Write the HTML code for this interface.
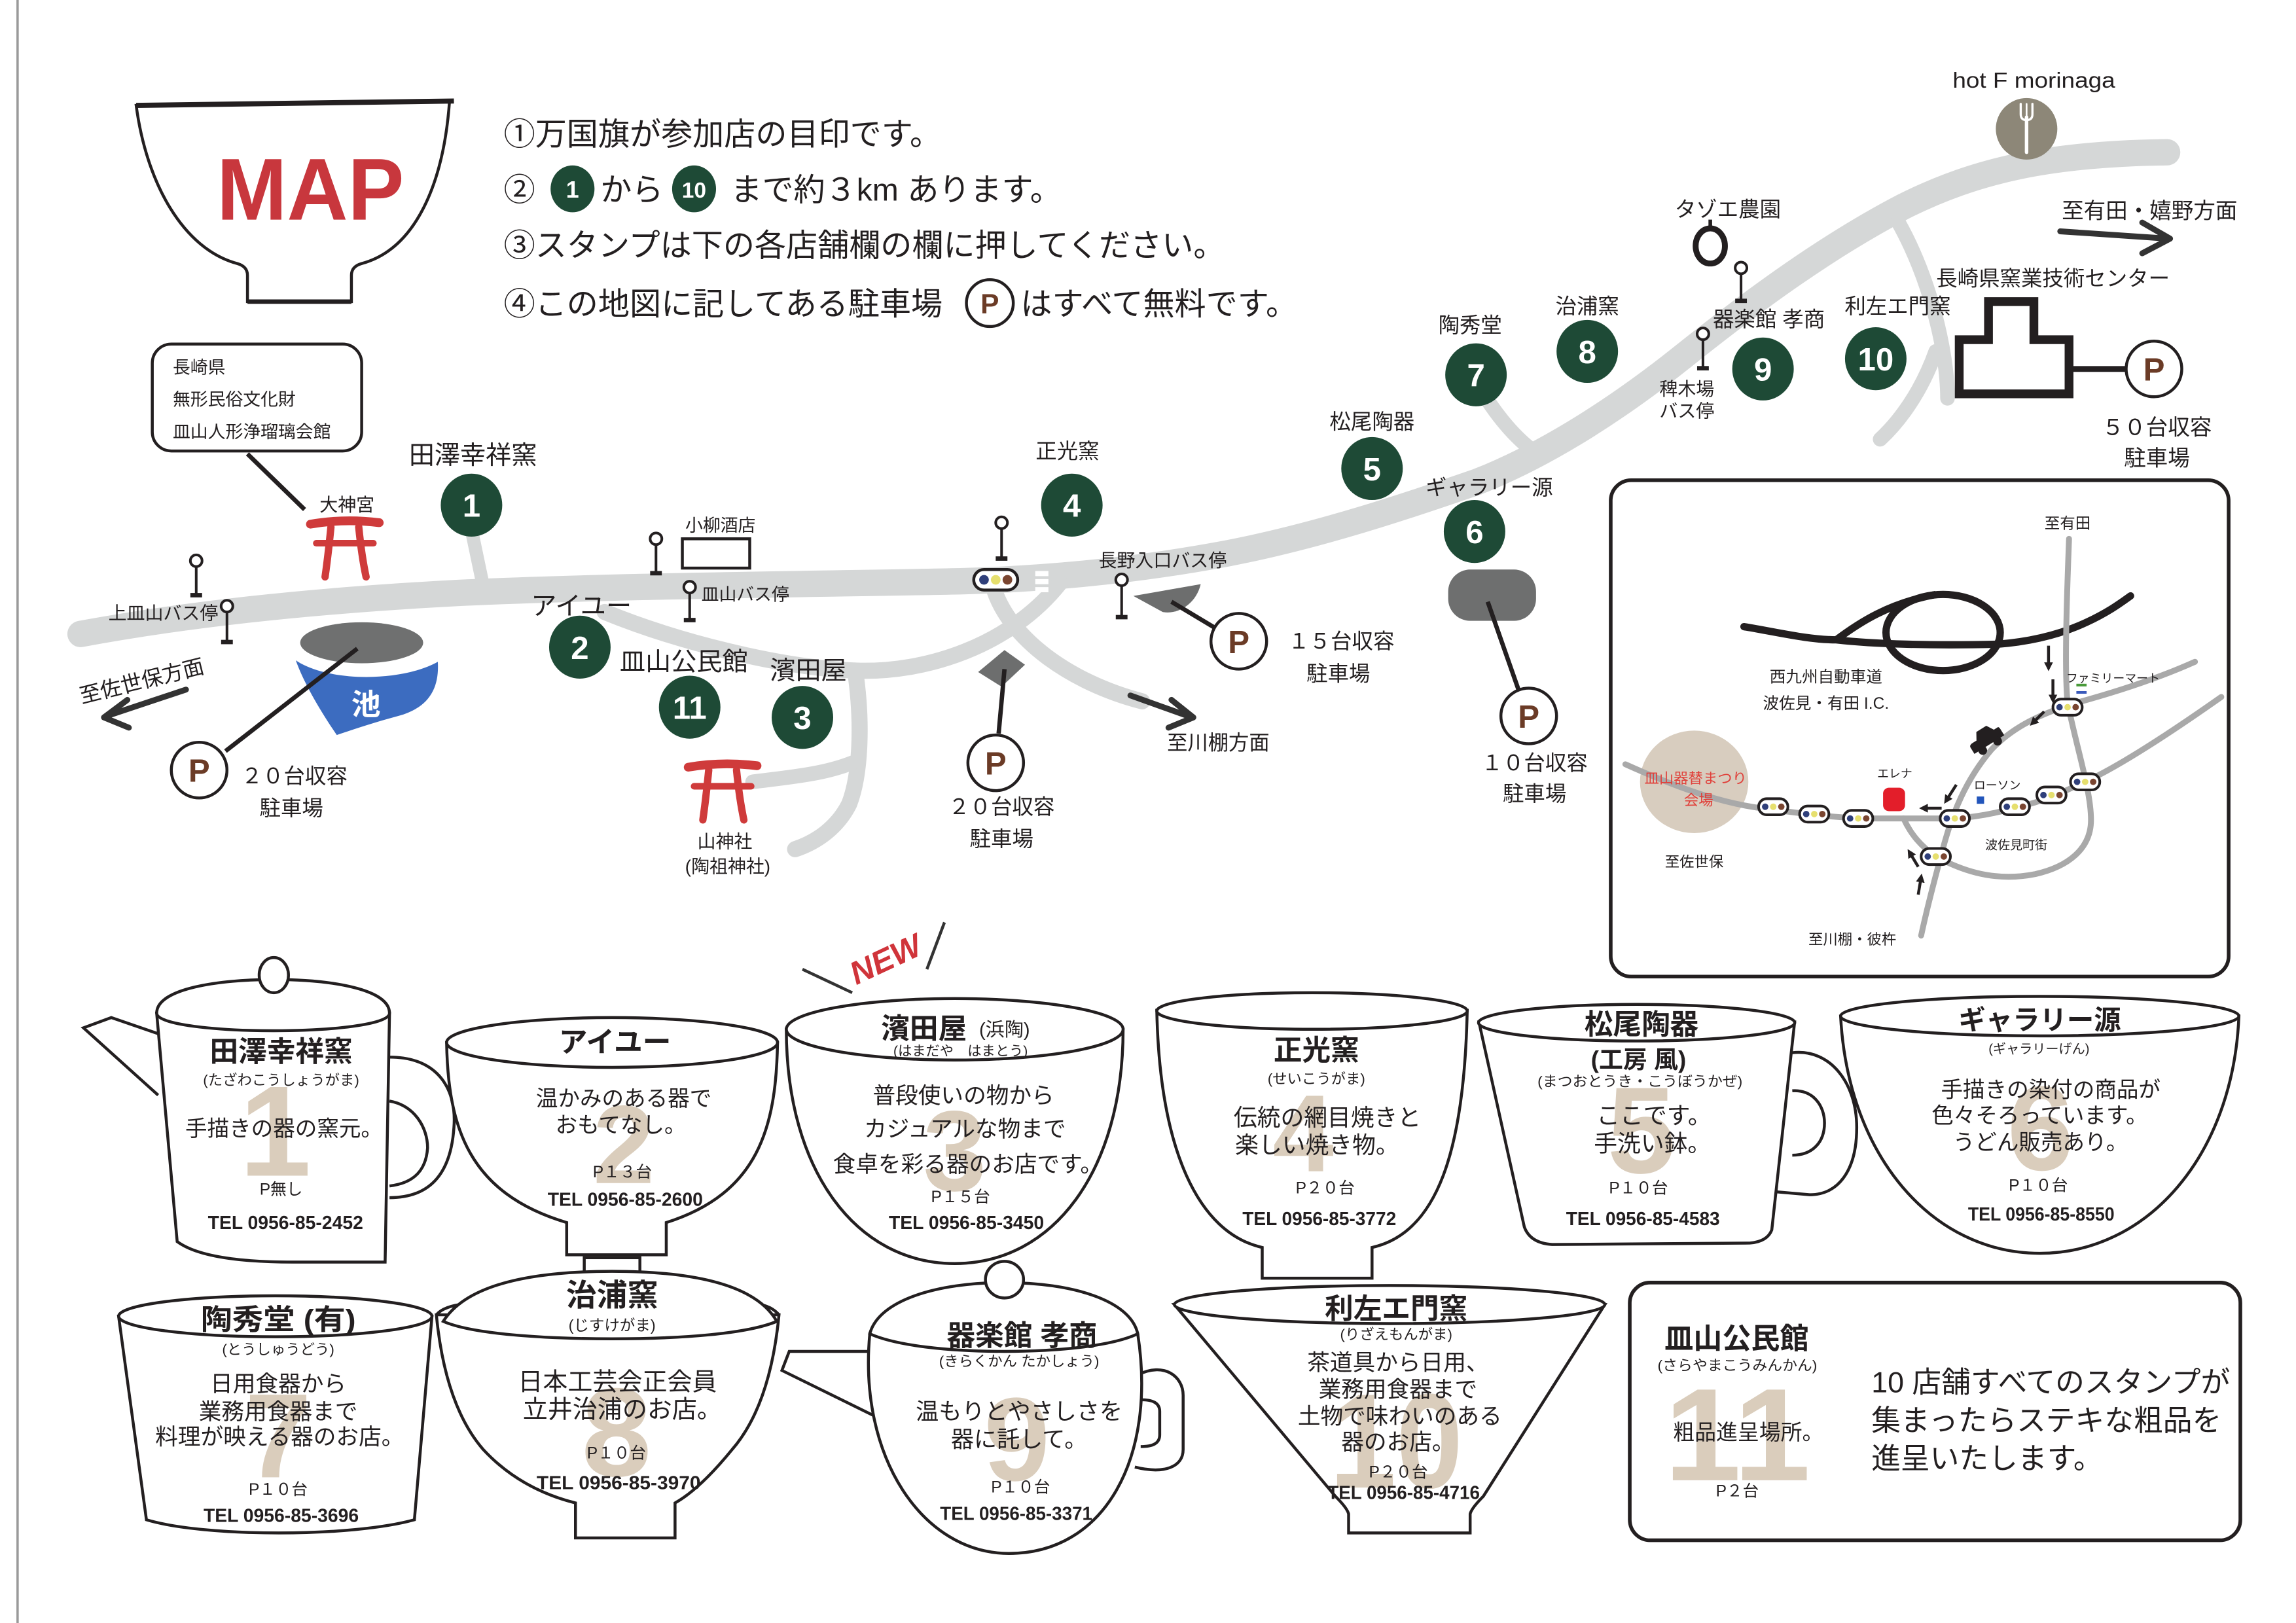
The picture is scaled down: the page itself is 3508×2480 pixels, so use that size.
<!DOCTYPE html>
<html><head><meta charset="utf-8">
<style>
html,body{margin:0;padding:0;background:#fff;}
svg{display:block;}
text{font-family:"Liberation Sans","Noto Sans CJK JP",sans-serif;fill:#231f20;}
.b{font-weight:bold;}
.c{text-anchor:middle;}
.e{text-anchor:end;}
.num{fill:#fff;font-weight:bold;text-anchor:middle;font-size:22px;}
.big{fill:#dacdbc;font-weight:bold;text-anchor:middle;font-size:80px;}
.tel{font-family:"Liberation Sans Narrow","Liberation Sans",sans-serif;font-weight:bold;text-anchor:middle;font-size:13px;}
.o{fill:#fff;stroke:#231f20;stroke-width:2;}
.ol{fill:none;stroke:#231f20;stroke-width:2;}
.pt{fill:#6b3b26;font-weight:bold;text-anchor:middle;font-size:22px;}
.g{fill:#1e4a36;}
.rd{fill:none;stroke:#d5d7d7;stroke-linecap:round;}
.ir{fill:none;stroke:#a9a9a9;stroke-width:4;stroke-linecap:round;}
.arr{fill:none;stroke:#333;stroke-width:4;stroke-linecap:round;stroke-linejoin:round;}
</style></head><body>
<svg width="3508" height="2480" viewBox="0 0 1568 1108.5" preserveAspectRatio="none" xmlns="http://www.w3.org/2000/svg">
<defs>
<marker id="ah" viewBox="0 0 10 10" refX="6" refY="5" markerWidth="3" markerHeight="3" orient="auto"><path d="M0,0 L10,5 L0,10 z" fill="#231f20"/></marker>
</defs>
<rect width="1568" height="1108.5" fill="#fff"/>
<line x1="12" y1="0" x2="12" y2="1108.5" stroke="#9a9a9a" stroke-width="1.6"/>

<!-- MAP bowl -->
<path class="o" d="M93,72 C100,125 125,170 162,180 Q169,182 169,188 L169,206 L240,206 L240,188 Q240,182 247,180 C284,170 303,125 307,69 Z" stroke-width="2"/>
<line x1="93" y1="72" x2="310" y2="69" stroke="#231f20" stroke-width="3.5"/>
<line x1="169" y1="206" x2="240" y2="206" stroke="#231f20" stroke-width="3"/>
<text x="212" y="150" class="c b" style="font-size:60px;fill:#c8373d" textLength="128" lengthAdjust="spacingAndGlyphs">MAP</text>

<!-- instructions -->
<g style="font-size:21.5px">
<text x="344" y="99">①万国旗が参加店の目印です。</text>
<text x="344" y="137">②</text>
<text x="410" y="137">から</text>
<text x="499" y="137">まで約３km あります。</text>
<text x="344" y="175">③スタンプは下の各店舗欄の欄に押してください。</text>
<text x="344" y="215">④この地図に記してある駐車場</text>
<text x="697" y="215">はすべて無料です。</text>
</g>
<ellipse cx="391" cy="129" rx="15" ry="16" class="g"/><text x="391" y="135" class="num" style="font-size:16px">1</text>
<ellipse cx="474" cy="129" rx="15" ry="16" class="g"/><text x="474" y="135" class="num" style="font-size:15px">10</text>
<circle cx="676" cy="207" r="16" class="o"/><text x="676" y="214" class="pt" style="font-size:19px">P</text>

<!-- speech bubble -->
<rect x="104" y="235" width="143" height="73" rx="13" class="o" stroke-width="2.2"/>
<g style="font-size:12px">
<text x="118" y="255">長崎県</text>
<text x="118" y="277">無形民俗文化財</text>
<text x="118" y="299">皿山人形浄瑠璃会館</text>
</g>
<line x1="169" y1="310" x2="208" y2="348" stroke="#231f20" stroke-width="3"/>

<!-- roads -->
<path class="rd" stroke-width="18" d="M55,433 C120,421 200,411 312,405 C420,400 560,399 656,397 C730,395 790,387 838,378 C900,366 960,346 1009,329 C1060,309 1110,275 1150,243 C1200,203 1250,167 1300,141 C1350,116 1400,105 1480,104"/>
<path class="rd" stroke-width="9" d="M322,362 L331,405"/>
<path class="rd" stroke-width="10" d="M1015,272 Q1030,295 1047,308"/>
<path class="rd" stroke-width="10" d="M1296,151 C1318,190 1330,240 1330,272"/>
<path class="rd" stroke-width="10" d="M1322,240 C1312,268 1297,288 1284,300"/>
<path class="rd" stroke-width="11" d="M413,418 C462,438 532,456 584,458 C632,460 690,441 724,398"/>
<path class="rd" stroke-width="11" d="M679,403 C690,436 730,466 780,479"/>
<path class="rd" stroke-width="11" d="M584,458 C589,492 588,528 580,549 C572,565 558,575 543,580"/>
<path class="rd" stroke-width="10" d="M514,534 C537,531 562,529 582,521"/>
<g fill="#fff"><rect x="707" y="390" width="9" height="3.5"/><rect x="707" y="395.5" width="9" height="3.5"/><rect x="707" y="401" width="9" height="3.5"/></g>

<!-- traffic light -->
<rect x="665" y="389" width="30" height="14" rx="7" fill="#fff" stroke="#231f20" stroke-width="2"/>
<circle cx="672" cy="396" r="3.3" fill="#2f3f7a"/><circle cx="680" cy="396" r="3.3" fill="#e6df6e"/><circle cx="688" cy="396" r="3.3" fill="#7a4530"/>

<!-- pins -->
<g stroke="#231f20" stroke-width="1.8" fill="#fff">
<line x1="134" y1="387" x2="134" y2="406"/><circle cx="134" cy="383" r="4"/>
<line x1="155" y1="418" x2="155" y2="438"/><circle cx="155" cy="414" r="4"/>
<line x1="448" y1="372" x2="448" y2="391"/><circle cx="448" cy="368" r="4"/>
<line x1="471" y1="405" x2="471" y2="423"/><circle cx="471" cy="401" r="4"/>
<line x1="684" y1="361" x2="684" y2="381"/><circle cx="684" cy="357" r="4"/>
<line x1="766" y1="400" x2="766" y2="421"/><circle cx="766" cy="396" r="4"/>
<line x1="1163" y1="232" x2="1163" y2="251"/><circle cx="1163" cy="228" r="4"/>
<line x1="1189" y1="187" x2="1189" y2="205"/><circle cx="1189" cy="183" r="4"/>
</g>
<g fill="#231f20">
<rect x="130" y="405" width="8" height="3"/><rect x="151" y="437" width="8" height="3"/>
<rect x="444" y="390" width="8" height="3"/><rect x="467" y="422" width="8" height="3"/>
<rect x="680" y="380" width="8" height="3"/><rect x="762" y="420" width="8" height="3"/>
<rect x="1159" y="250" width="8" height="3"/><rect x="1185" y="204" width="8" height="3"/>
</g>
<!-- タゾエ ring -->
<ellipse cx="1168" cy="168" rx="10" ry="12" fill="none" stroke="#231f20" stroke-width="4"/>
<line x1="1168" y1="150" x2="1168" y2="157" stroke="#231f20" stroke-width="2.5"/>

<!-- 小柳酒店 box -->
<rect x="466" y="368" width="46" height="20" fill="#fff" stroke="#231f20" stroke-width="2"/>

<!-- pond -->
<ellipse cx="247" cy="439" rx="42" ry="14" fill="#6f7070"/>
<path d="M202,451 C224,466 274,466 299,452 C300,469 294,483 272,489 C257,493 242,498 230,502 C217,483 207,465 202,451 Z" fill="#3c6cc0"/>
<text x="250" y="488" class="c b" style="font-size:20px;fill:#fff">池</text>
<line x1="154" y1="513" x2="244" y2="443" stroke="#231f20" stroke-width="3"/>

<!-- torii -->
<g stroke="#cf3b3b" stroke-linecap="round" fill="none">
<path d="M212,358 Q235,354 259,357" stroke-width="6"/>
<path d="M216,371 L255,371" stroke-width="4.5"/>
<path d="M226,360 Q224,380 222,394" stroke-width="5"/>
<path d="M245,360 Q247,380 250,394" stroke-width="5"/>
</g>
<g stroke="#cf3b3b" stroke-linecap="round" fill="none" transform="translate(258,166)">
<path d="M212,358 Q235,354 259,357" stroke-width="6"/>
<path d="M216,371 L255,371" stroke-width="4.5"/>
<path d="M226,360 Q224,380 222,394" stroke-width="5"/>
<path d="M245,360 Q247,380 250,394" stroke-width="5"/>
</g>

<!-- parking shapes and lines -->
<path d="M668,459 L686,444 L700,454 L684,469 Z" fill="#6d6e6e"/>
<line x1="686" y1="457" x2="682" y2="501" stroke="#231f20" stroke-width="3"/>
<path d="M774,407 L820,399 C817,412 805,420 794,418 Z" fill="#6d6e6e"/>
<line x1="800" y1="411" x2="830" y2="429" stroke="#231f20" stroke-width="3"/>
<rect x="989" y="389" width="60" height="35" rx="15" fill="#6e6f6f"/>
<line x1="1016" y1="411" x2="1037" y2="471" stroke="#231f20" stroke-width="3"/>

<!-- arrows -->
<path class="arr" d="M127,471 L73,489 M87,478 L71,490 L88,497"/>
<path class="arr" d="M772,475 L814,490 M800,478 L815,490 L798,497"/>
<path class="arr" d="M1407,158 L1481,163 M1463,152 L1482,163 L1463,173"/>

<!-- building -->
<path d="M1358,206 L1389,206 L1389,232 L1413,232 L1413,269 L1338,269 L1338,232 L1358,232 Z" fill="#fff" stroke="#231f20" stroke-width="6" stroke-linejoin="miter"/>
<line x1="1415" y1="252" x2="1452" y2="252" stroke="#231f20" stroke-width="4"/>

<!-- hot F morinaga -->
<circle cx="1384" cy="88" r="21" fill="#8d8778"/>
<g stroke="#fff" stroke-linecap="round" fill="none">
<line x1="1384" y1="80" x2="1384" y2="104" stroke-width="2.4"/>
<path d="M1380,71 L1380,78 Q1380,82 1384,82 Q1388,82 1388,78 L1388,71" stroke-width="1.5"/>
<line x1="1384" y1="71" x2="1384" y2="79" stroke-width="1.2"/>
</g>

<!-- P circles -->
<circle cx="136" cy="526" r="19" class="o"/><text x="136" y="534" class="pt">P</text>
<circle cx="680" cy="521" r="19" class="o"/><text x="680" y="529" class="pt">P</text>
<circle cx="846" cy="438" r="19" class="o"/><text x="846" y="446" class="pt">P</text>
<circle cx="1044" cy="489" r="19" class="o"/><text x="1044" y="497" class="pt">P</text>
<circle cx="1471" cy="252" r="19" class="o"/><text x="1471" y="260" class="pt">P</text>

<!-- green circles -->
<g>
<ellipse cx="322" cy="345" rx="21" ry="21.5" class="g"/><text x="322" y="353" class="num">1</text>
<ellipse cx="396" cy="442" rx="21" ry="21.5" class="g"/><text x="396" y="450" class="num">2</text>
<ellipse cx="471" cy="483" rx="21" ry="21.5" class="g"/><text x="471" y="491" class="num">11</text>
<ellipse cx="548" cy="490" rx="21" ry="21.5" class="g"/><text x="548" y="498" class="num">3</text>
<ellipse cx="732" cy="345" rx="21" ry="21.5" class="g"/><text x="732" y="353" class="num">4</text>
<ellipse cx="937" cy="320" rx="21" ry="21.5" class="g"/><text x="937" y="328" class="num">5</text>
<ellipse cx="1007" cy="363" rx="21" ry="21.5" class="g"/><text x="1007" y="371" class="num">6</text>
<ellipse cx="1008" cy="256" rx="21" ry="21.5" class="g"/><text x="1008" y="264" class="num">7</text>
<ellipse cx="1084" cy="240" rx="21" ry="21.5" class="g"/><text x="1084" y="248" class="num">8</text>
<ellipse cx="1204" cy="252" rx="21" ry="21.5" class="g"/><text x="1204" y="260" class="num">9</text>
<ellipse cx="1281" cy="245" rx="21" ry="21.5" class="g"/><text x="1281" y="253" class="num">10</text>
</g>

<!-- map labels -->
<g style="font-size:17.5px">
<text x="323" y="317" class="c">田澤幸祥窯</text>
<text x="397" y="420" class="c">アイユー</text>
<text x="467" y="458" class="c">皿山公民館</text>
<text x="552" y="464" class="c">濱田屋</text>
</g>
<g style="font-size:14.5px">
<text x="729" y="313" class="c">正光窯</text>
<text x="937" y="293" class="c">松尾陶器</text>
<text x="1017" y="338" class="c">ギャラリー源</text>
<text x="1004" y="227" class="c">陶秀堂</text>
<text x="1084" y="214" class="c">治浦窯</text>
<text x="1208" y="223" class="c">器楽館 孝商</text>
<text x="1296" y="214" class="c">利左エ門窯</text>
<text x="1402" y="195" class="c">長崎県窯業技術センター</text>
<text x="1180" y="148" class="c">タゾエ農園</text>
<text x="1468" y="149" class="c" style="font-size:15px">至有田・嬉野方面</text>
<text x="1473" y="297" class="c" style="font-size:15px">５０台収容</text>
<text x="1473" y="318" class="c" style="font-size:15px">駐車場</text>
<text x="201" y="535" class="c">２０台収容</text>
<text x="199" y="557" class="c">駐車場</text>
<text x="916" y="443" class="c">１５台収容</text>
<text x="914" y="465" class="c">駐車場</text>
<text x="684" y="556" class="c">２０台収容</text>
<text x="684" y="578" class="c">駐車場</text>
<text x="832" y="512" class="c" style="font-size:14px">至川棚方面</text>
<text x="1048" y="526" class="c">１０台収容</text>
<text x="1048" y="547" class="c">駐車場</text>
<text transform="translate(98,470) rotate(-14)" class="c">至佐世保方面</text>
</g>
<text x="1389" y="60" class="c" style="font-size:15px" textLength="111" lengthAdjust="spacingAndGlyphs">hot F morinaga</text>
<g style="font-size:12.5px">
<text x="237" y="349" class="c">大神宮</text>
<text x="149" y="423" class="e">上皿山バス停</text>
<text x="492" y="363" class="c" style="font-size:12px">小柳酒店</text>
<text x="479" y="410" style="font-size:12px">皿山バス停</text>
<text x="794" y="387" class="c">長野入口バス停</text>
<text x="1152" y="270" class="c">稗木場</text>
<text x="1152" y="285" class="c">バス停</text>
<text x="495" y="579" class="c">山神社</text>
<text x="497" y="596" class="c">(陶祖神社)</text>
</g>

<!-- inset map -->
<rect x="1100" y="328" width="422" height="339" rx="14" fill="#fff" stroke="#231f20" stroke-width="2.5"/>
<ellipse cx="1157" cy="534" rx="37" ry="35" fill="#d8cdbf"/>
<path d="M1191,428 C1215,432 1235,437 1254,437 C1280,440 1320,441 1364,440 C1390,438 1410,432 1425,425 C1440,418 1448,412 1455,407" fill="none" stroke="#231f20" stroke-width="5" stroke-linecap="round"/>
<ellipse cx="1327" cy="432" rx="39" ry="26" fill="none" stroke="#231f20" stroke-width="5"/>
<path d="M1254,437 C1270,425 1290,412 1322,406" fill="none" stroke="#231f20" stroke-width="5"/>
<path class="ir" d="M1413,368 C1411,420 1410,460 1412,480 C1418,510 1428,540 1428,560 C1428,580 1412,592 1390,597 C1365,602 1345,596 1330,589"/>
<path class="ir" d="M1499,452 C1470,465 1440,474 1418,480 C1395,487 1375,496 1360,512 C1343,532 1333,555 1326,583 C1320,605 1315,625 1312,639"/>
<path class="ir" d="M1110,522 C1150,540 1180,550 1211,553 C1240,557 1260,559 1282,559 L1335,559 C1350,558 1365,555 1379,551 C1400,546 1410,540 1424,534 C1450,522 1490,495 1517,476"/>
<path class="ir" d="M1300,559 C1305,570 1312,578 1322,585"/>
<g style="font-size:10.5px">
<text x="1412" y="361" class="c">至有田</text>
<text x="1247" y="466" class="c" style="font-size:11px">西九州自動車道</text>
<text x="1247" y="484" class="c" style="font-size:11px">波佐見・有田 I.C.</text>
<text x="1158" y="535" class="c" style="font-size:10px;fill:#e0403a">皿山器替まつり</text>
<text x="1160" y="550" class="c" style="font-size:10px;fill:#e0403a">会場</text>
<text x="1157" y="592" class="c" style="font-size:10px">至佐世保</text>
<text x="1265" y="645" class="c" style="font-size:10px">至川棚・彼杵</text>
<text x="1294" y="531" class="c" style="font-size:8px">エレナ</text>
<text x="1364" y="539" class="c" style="font-size:8px">ローソン</text>
<text x="1443" y="466" class="c" style="font-size:8px">ファミリーマート</text>
<text x="1377" y="580" class="c" style="font-size:8.5px">波佐見町街</text>
</g>
<rect x="1286" y="538" width="15" height="16" rx="4" fill="#e31e2a"/>
<rect x="1350" y="544" width="5" height="5" fill="#2255bb"/>
<rect x="1418" y="467" width="7" height="1.8" fill="#4a9a3a"/>
<rect x="1418" y="472" width="7" height="1.8" fill="#3a5abb"/>
<g transform="translate(1357,506) rotate(-32)">
<path d="M-12,3 L-12,-2 Q-12,-4 -9,-4 L-6,-4 L-3,-9 L5,-9 L8,-4 L11,-4 Q12,-4 12,-2 L12,3 Z" fill="#231f20"/>
<circle cx="-6" cy="4" r="3" fill="#231f20"/><circle cx="6" cy="4" r="3" fill="#231f20"/>
</g>
<g stroke="#231f20" stroke-width="2" marker-end="url(#ah)">
<line x1="1399" y1="441" x2="1399" y2="456"/>
<line x1="1402" y1="464" x2="1402" y2="478"/>
<line x1="1396" y1="486" x2="1388" y2="494"/>
<line x1="1336" y1="536" x2="1329" y2="547"/>
<line x1="1326" y1="552" x2="1313" y2="552"/>
<line x1="1310" y1="592" x2="1304" y2="582"/>
<line x1="1310" y1="611" x2="1312" y2="599"/>
</g>
<g>
<g transform="translate(1211,551)"><rect x="-10" y="-5.5" width="20" height="11" rx="5.5" fill="#fff" stroke="#231f20" stroke-width="1.8"/><circle cx="-5.5" r="2.2" fill="#2f3f7a"/><circle cx="0" r="2.2" fill="#e6df6e"/><circle cx="5.5" r="2.2" fill="#7a4530"/></g>
<g transform="translate(1239,556)"><rect x="-10" y="-5.5" width="20" height="11" rx="5.5" fill="#fff" stroke="#231f20" stroke-width="1.8"/><circle cx="-5.5" r="2.2" fill="#2f3f7a"/><circle cx="0" r="2.2" fill="#e6df6e"/><circle cx="5.5" r="2.2" fill="#7a4530"/></g>
<g transform="translate(1269,559)"><rect x="-10" y="-5.5" width="20" height="11" rx="5.5" fill="#fff" stroke="#231f20" stroke-width="1.8"/><circle cx="-5.5" r="2.2" fill="#2f3f7a"/><circle cx="0" r="2.2" fill="#e6df6e"/><circle cx="5.5" r="2.2" fill="#7a4530"/></g>
<g transform="translate(1335,559)"><rect x="-10" y="-5.5" width="20" height="11" rx="5.5" fill="#fff" stroke="#231f20" stroke-width="1.8"/><circle cx="-5.5" r="2.2" fill="#2f3f7a"/><circle cx="0" r="2.2" fill="#e6df6e"/><circle cx="5.5" r="2.2" fill="#7a4530"/></g>
<g transform="translate(1322,585)"><rect x="-10" y="-5.5" width="20" height="11" rx="5.5" fill="#fff" stroke="#231f20" stroke-width="1.8"/><circle cx="-5.5" r="2.2" fill="#2f3f7a"/><circle cx="0" r="2.2" fill="#e6df6e"/><circle cx="5.5" r="2.2" fill="#7a4530"/></g>
<g transform="translate(1376,551)"><rect x="-10" y="-5.5" width="20" height="11" rx="5.5" fill="#fff" stroke="#231f20" stroke-width="1.8"/><circle cx="-5.5" r="2.2" fill="#2f3f7a"/><circle cx="0" r="2.2" fill="#e6df6e"/><circle cx="5.5" r="2.2" fill="#7a4530"/></g>
<g transform="translate(1401,543)"><rect x="-10" y="-5.5" width="20" height="11" rx="5.5" fill="#fff" stroke="#231f20" stroke-width="1.8"/><circle cx="-5.5" r="2.2" fill="#2f3f7a"/><circle cx="0" r="2.2" fill="#e6df6e"/><circle cx="5.5" r="2.2" fill="#7a4530"/></g>
<g transform="translate(1424,534)"><rect x="-10" y="-5.5" width="20" height="11" rx="5.5" fill="#fff" stroke="#231f20" stroke-width="1.8"/><circle cx="-5.5" r="2.2" fill="#2f3f7a"/><circle cx="0" r="2.2" fill="#e6df6e"/><circle cx="5.5" r="2.2" fill="#7a4530"/></g>
<g transform="translate(1412,483)"><rect x="-10" y="-5.5" width="20" height="11" rx="5.5" fill="#fff" stroke="#231f20" stroke-width="1.8"/><circle cx="-5.5" r="2.2" fill="#2f3f7a"/><circle cx="0" r="2.2" fill="#e6df6e"/><circle cx="5.5" r="2.2" fill="#7a4530"/></g>
</g>

<!-- ================= CUPS ================= -->
<!-- cup 1 teapot -->
<path class="ol" d="M108,706 L76,695 L57,702 L108,748"/>
<path class="ol" d="M266,722 C300,722 312,745 310,770 C308,800 295,818 266,818"/>
<path class="ol" d="M266,752 C283,755 292,770 292,784 C291,799 283,808 266,810"/>
<path class="o" d="M107,692 L121,848 Q140,862 200,862 L263,862 L266,692 Z"/>
<path class="o" d="M107,692 C107,675 150,669 187,669 C224,669 266,675 266,692 C266,700 225,704 187,704 C149,704 107,700 107,692 Z"/>
<ellipse cx="187" cy="666" rx="10" ry="12" class="o"/>

<!-- cup 2 -->
<path class="o" d="M305,712 C306,770 320,815 387,835 L387,857 L455,857 L455,835 C518,815 530,770 531,712 Z"/>
<ellipse cx="418" cy="712" rx="113" ry="17" class="o" stroke-width="2.5"/>

<!-- cup 3 -->
<path class="o" d="M537,703 C537,800 585,863 652,863 C719,863 767,800 767,703 Z"/>
<ellipse cx="652" cy="703" rx="115" ry="21" class="o" stroke-width="2.5"/>
<line x1="548" y1="662" x2="582" y2="678" stroke="#333" stroke-width="2"/>
<line x1="645" y1="630" x2="633" y2="662" stroke="#333" stroke-width="2"/>
<text transform="translate(608,662) rotate(-25)" class="c b" style="font-size:22px;fill:#d0343a;font-style:italic">NEW</text>

<!-- cup 4 -->
<path class="o" d="M790,690 C792,785 818,842 862,852 L862,873 L937,873 L937,852 C982,842 1000,785 1002,690 Z"/>
<ellipse cx="896" cy="690.5" rx="106" ry="12.5" class="o" stroke-width="2.5"/>

<!-- cup 5 -->
<path class="ol" d="M1224,719 C1250,716 1268,740 1268,770 C1268,800 1255,816 1236,816 L1213,814"/>
<path class="ol" d="M1224,745 C1238,744 1246,755 1246,767 C1246,780 1238,789 1224,789"/>
<path class="o" d="M1010,698 L1041,838 Q1045,849 1060,850 L1195,849 Q1207,848 1210,840 L1225.6,698 Z"/>
<ellipse cx="1117.7" cy="698.5" rx="108" ry="12.5" class="o" stroke-width="2.5"/>

<!-- cup 6 -->
<path class="o" d="M1257,694 C1262,790 1320,856 1393,856 C1466,856 1525,790 1529,694 Z"/>
<ellipse cx="1393" cy="694" rx="136" ry="13.5" class="o" stroke-width="2.5"/>

<!-- cup 7 -->
<path class="o" d="M81,899 L100,1038 C140,1050 240,1050 283,1038 L295,899 Z"/>
<ellipse cx="188" cy="899" rx="107" ry="14" class="o" stroke-width="2.5"/>

<!-- cup 8 -->
<rect x="399" y="859" width="38" height="10" class="o"/>
<path class="o" d="M298,898 Q304,960 330,990 Q355,1017 393,1026.5 L393,1050.4 L461,1050.4 L461,1026.5 Q478,1017 500,990 Q526,960 532,898 Z"/>
<path class="ol" d="M298,898 Q303,892 318,890.5 M532,898 Q527,892 517,890.5"/>
<path class="o" d="M302.7,902.5 C320,875 370,868.3 418,868.3 C466,868.3 515,875 530.5,902.5 C510,911 466,914.4 418,914.4 C370,914.4 322,911 302.7,902.5 Z"/>

<!-- cup 9 -->
<path class="ol" d="M594,923 L539,923 L534,936 L599,968"/>
<path class="ol" d="M777,939 C795,930 808,940 808,953 L808,990 C808,1002 795,1007 775,1002"/>
<path class="ol" d="M779,956 C787,956 792,958 792,964 L792,980 C792,986 787,988 779,988"/>
<path class="o" d="M594,911 C586,995 630,1061 689,1061 C755,1061 790,995 777,911 Z"/>
<path class="o" d="M594,911 C600,888 640,876 686,876 C732,876 772,888 777,911 C760,919 725,923 686,923 C647,923 612,919 594,911 Z"/>
<ellipse cx="686" cy="874" rx="13" ry="12.5" class="o"/>

<!-- cup 10 -->
<path class="o" d="M802,891 L912,1022 Q920,1030 921,1034 L921,1047 L1004,1047 L1004,1034 Q1005,1030 1013,1022 L1096,891 Z"/>
<ellipse cx="949" cy="891" rx="147" ry="13" class="o" stroke-width="2.5"/>

<!-- box 11 -->
<rect x="1113" y="876" width="417" height="176" rx="14" fill="#fff" stroke="#231f20" stroke-width="2.5"/>

<!-- big numbers -->
<text x="188" y="803" class="big" style="font-size:88px">1</text>
<text x="426" y="808" class="big" style="font-size:76px">2</text>
<text x="652" y="813" class="big" style="font-size:78px">3</text>
<text x="890" y="800" class="big" style="font-size:75px">4</text>
<text x="1121" y="801" class="big" style="font-size:84px">5</text>
<text x="1393.5" y="799" class="big" style="font-size:82px">6</text>
<text x="190" y="1009" class="big" style="font-size:82px">7</text>
<text x="421" y="1008" class="big" style="font-size:86px">8</text>
<text x="694.5" y="1011" class="big" style="font-size:81px">9</text>
<text x="953.5" y="1016" class="big" style="font-size:92px" textLength="91" lengthAdjust="spacingAndGlyphs">10</text>
<text x="1186.5" y="1011" class="big" style="font-size:90px" textLength="100" lengthAdjust="spacingAndGlyphs">11</text>

<!-- cup texts -->
<g>
<!-- 1 -->
<text x="192" y="725" class="c b" style="font-size:19.5px">田澤幸祥窯</text>
<text x="192" y="741" class="c" style="font-size:10px">(たざわこうしょうがま)</text>
<text x="194" y="776" class="c" style="font-size:15px">手描きの器の窯元。</text>
<text x="192" y="816" class="c" style="font-size:11px">P無し</text>
<text x="195" y="839.5" class="tel" textLength="106" lengthAdjust="spacingAndGlyphs">TEL 0956-85-2452</text>
<!-- 2 -->
<text x="420" y="718.5" class="c b" style="font-size:19.5px">アイユー</text>
<text x="426" y="755.5" class="c" style="font-size:15px">温かみのある器で</text>
<text x="424" y="773.5" class="c" style="font-size:15px">おもてなし。</text>
<text x="425" y="804" class="c" style="font-size:11px">P１３台</text>
<text x="427" y="823.5" class="tel" textLength="106" lengthAdjust="spacingAndGlyphs">TEL 0956-85-2600</text>
<!-- 3 -->
<text x="631" y="709.3" class="c b" style="font-size:19.5px">濱田屋</text>
<text x="686" y="707.5" class="c" style="font-size:13px">(浜陶)</text>
<text x="656" y="721" class="c" style="font-size:9.5px">(はまだや　はまとう)</text>
<text x="658" y="753.5" class="c" style="font-size:15.5px">普段使いの物から</text>
<text x="659" y="776.5" class="c" style="font-size:15.5px">カジュアルな物まで</text>
<text x="661" y="800.5" class="c" style="font-size:15.5px">食卓を彩る器のお店です。</text>
<text x="656" y="821" class="c" style="font-size:11px">P１５台</text>
<text x="660" y="839.5" class="tel" textLength="106" lengthAdjust="spacingAndGlyphs">TEL 0956-85-3450</text>
<!-- 4 -->
<text x="899" y="724" class="c b" style="font-size:19.5px">正光窯</text>
<text x="899" y="740.3" class="c" style="font-size:10px">(せいこうがま)</text>
<text x="906.5" y="768.8" class="c" style="font-size:16px">伝統の網目焼きと</text>
<text x="899.5" y="787.6" class="c" style="font-size:16px">楽しい焼き物。</text>
<text x="905" y="815" class="c" style="font-size:11px">P２０台</text>
<text x="901" y="836.7" class="tel" textLength="105" lengthAdjust="spacingAndGlyphs">TEL 0956-85-3772</text>
<!-- 5 -->
<text x="1121" y="706.5" class="c b" style="font-size:19.5px">松尾陶器</text>
<text x="1119" y="729.5" class="c b" style="font-size:16.5px">(工房 風)</text>
<text x="1120" y="742" class="c" style="font-size:10px" textLength="140" lengthAdjust="spacingAndGlyphs">(まつおとうき・こうぼうかぜ)</text>
<text x="1129.5" y="767.4" class="c" style="font-size:16px">ここです。</text>
<text x="1128.5" y="786.5" class="c" style="font-size:16px">手洗い鉢。</text>
<text x="1119" y="815" class="c" style="font-size:11px">P１０台</text>
<text x="1122" y="836.7" class="tel" textLength="105" lengthAdjust="spacingAndGlyphs">TEL 0956-85-4583</text>
<!-- 6 -->
<text x="1393" y="703" class="c b" style="font-size:18.5px">ギャラリー源</text>
<text x="1392.5" y="719.5" class="c" style="font-size:9px">(ギャラリーげん)</text>
<text x="1400.5" y="749.4" class="c" style="font-size:15px">手描きの染付の商品が</text>
<text x="1393" y="767" class="c" style="font-size:15px">色々そろっています。</text>
<text x="1393.5" y="785.3" class="c" style="font-size:15px">うどん販売あり。</text>
<text x="1392" y="813.3" class="c" style="font-size:11px">P１０台</text>
<text x="1394" y="833.7" class="tel" textLength="100" lengthAdjust="spacingAndGlyphs">TEL 0956-85-8550</text>
<!-- 7 -->
<text x="190" y="908" class="c b" style="font-size:19.5px" textLength="106" lengthAdjust="spacingAndGlyphs">陶秀堂 (有)</text>
<text x="190" y="925" class="c" style="font-size:10px">(とうしゅうどう)</text>
<text x="190" y="950.6" class="c" style="font-size:15.5px">日用食器から</text>
<text x="190" y="969.4" class="c" style="font-size:15.5px">業務用食器まで</text>
<text x="191" y="986.6" class="c" style="font-size:15.5px">料理が映える器のお店。</text>
<text x="190" y="1021" class="c" style="font-size:11px">P１０台</text>
<text x="192" y="1039.5" class="tel" textLength="106" lengthAdjust="spacingAndGlyphs">TEL 0956-85-3696</text>
<!-- 8 -->
<text x="418" y="892" class="c b" style="font-size:21px">治浦窯</text>
<text x="418" y="908.6" class="c" style="font-size:10.5px">(じすけがま)</text>
<text x="421.7" y="949.6" class="c" style="font-size:17px">日本工芸会正会員</text>
<text x="425" y="968.4" class="c" style="font-size:17px">立井治浦のお店。</text>
<text x="421" y="996" class="c" style="font-size:11px">P１０台</text>
<text x="422.5" y="1017" class="tel" textLength="112" lengthAdjust="spacingAndGlyphs">TEL 0956-85-3970</text>
<!-- 9 -->
<text x="698" y="919" class="c b" style="font-size:19.5px">器楽館 孝商</text>
<text x="696" y="933" class="c" style="font-size:10px">(きらくかん たかしょう)</text>
<text x="696" y="969.6" class="c" style="font-size:15.7px">温もりとやさしさを</text>
<text x="696" y="988.4" class="c" style="font-size:15.7px">器に託して。</text>
<text x="697" y="1019.3" class="c" style="font-size:11px">P１０台</text>
<text x="694" y="1038" class="tel" textLength="104" lengthAdjust="spacingAndGlyphs">TEL 0956-85-3371</text>
<!-- 10 -->
<text x="953.5" y="900.6" class="c b" style="font-size:19.5px">利左エ門窯</text>
<text x="953.5" y="914.8" class="c" style="font-size:10px">(りざえもんがま)</text>
<text x="954.7" y="936" class="c" style="font-size:15.5px">茶道具から日用、</text>
<text x="954.7" y="954.4" class="c" style="font-size:15.5px">業務用食器まで</text>
<text x="956" y="972.6" class="c" style="font-size:15.5px">土物で味わいのある</text>
<text x="954.7" y="990.2" class="c" style="font-size:15.5px">器のお店。</text>
<text x="955" y="1009" class="c" style="font-size:11px">P２０台</text>
<text x="958.6" y="1023.7" class="tel" textLength="104" lengthAdjust="spacingAndGlyphs">TEL 0956-85-4716</text>
<!-- 11 -->
<text x="1186" y="921" class="c b" style="font-size:19.7px">皿山公民館</text>
<text x="1186.5" y="935.9" class="c" style="font-size:10px" textLength="109" lengthAdjust="spacingAndGlyphs">(さらやまこうみんかん)</text>
<text x="1194" y="983.3" class="c" style="font-size:14.7px">粗品進呈場所。</text>
<text x="1186.5" y="1022" class="c" style="font-size:11px">P２台</text>
</g>
<g style="font-size:20px">
<text x="1278" y="951">10 店舗すべてのスタンプが</text>
<text x="1278" y="977">集まったらステキな粗品を</text>
<text x="1278" y="1003">進呈いたします。</text>
</g>
</svg>
</body></html>
